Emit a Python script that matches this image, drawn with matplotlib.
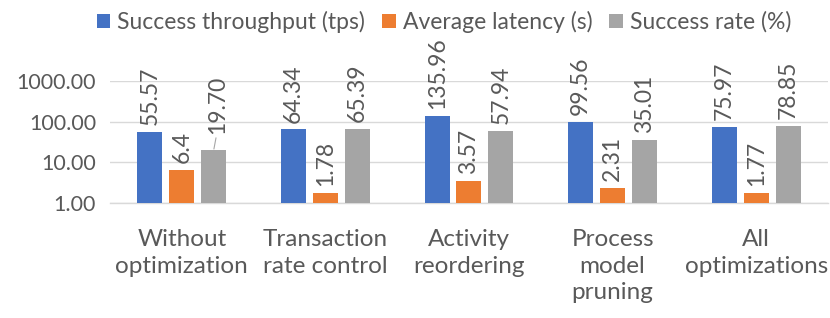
import matplotlib
matplotlib.use("Agg")
import matplotlib.pyplot as plt
import numpy as np

categories = ["Without\noptimization", "Transaction\nrate control", "Activity\nreordering",
              "Process\nmodel\npruning", "All\noptimizations"]
series_names = ["Success throughput (tps)", "Average latency (s)", "Success rate (%)"]
throughput = [55.57, 64.34, 135.96, 99.56, 75.97]
latency = [6.4, 1.78, 3.57, 2.31, 1.77]
success_rate = [19.70, 65.39, 57.94, 35.01, 78.85]
throughput_labels = ["55.57", "64.34", "135.96", "99.56", "75.97"]
latency_labels = ["6.4", "1.78", "3.57", "2.31", "1.77"]
success_labels = ["19.70", "65.39", "57.94", "35.01", "78.85"]
yticks = [1, 10, 100, 1000]
ytick_labels = ["1.00", "10.00", "100.00", "1000.00"]

colors = ["#4472C4", "#ED7D31", "#A5A5A5"]
text_color = "#595959"
grid_color = "#D9D9D9"
plt.rcParams['font.family'] = ['Lato', 'DejaVu Sans']
fs_tick = 15.5
fs_cat = 17.5
fs_data = 16.5
fs_leg = 16.5

fig = plt.figure(figsize=(8.3, 3.18), dpi=100)
ax = fig.add_axes([0.1325, 0.3616, 0.8651, 0.3837])

x = np.arange(len(categories))
width = 0.174
step = 0.222
all_vals = [throughput, latency, success_rate]
all_labels = [throughput_labels, latency_labels, success_labels]
for i, (vals, labs) in enumerate(zip(all_vals, all_labels)):
    pos = x + (i - 1) * step
    ax.bar(pos, vals, width, color=colors[i], label=series_names[i], zorder=3)
    for j, (p, v, lab) in enumerate(zip(pos, vals, labs)):
        if i == 2 and j == 0:
            ax.annotate(lab, xy=(p, v), xytext=(3, 12), textcoords="offset points",
                        rotation=90, ha="center", va="bottom", fontsize=fs_data, color=text_color,
                        arrowprops=dict(arrowstyle="-", color="#A6A6A6", lw=0.8,
                                        shrinkA=1, shrinkB=1, relpos=(0.45, 0.0)))
        else:
            ax.annotate(lab, xy=(p, v), xytext=(0, 5), textcoords="offset points",
                        rotation=90, ha="center", va="bottom", fontsize=fs_data, color=text_color)

ax.set_yscale("log")
ax.set_ylim(1, 1000)
ax.set_xlim(-0.5, len(categories) - 0.5)
ax.set_yticks(yticks)
ax.set_yticklabels(ytick_labels)
ax.yaxis.set_minor_locator(matplotlib.ticker.NullLocator())
ax.set_xticks(x)
ax.set_xticklabels(categories, linespacing=1.3)
ax.tick_params(axis="both", length=0, colors=text_color)
ax.tick_params(axis="y", labelsize=fs_tick, pad=10)
ax.tick_params(axis="x", labelsize=fs_cat, pad=19)
ax.grid(axis="y", color=grid_color, lw=1, zorder=0)
for s in ["top", "right", "left"]:
    ax.spines[s].set_visible(False)
ax.spines["bottom"].set_color(grid_color)
ax.spines["bottom"].set_linewidth(1)

handles, labels = ax.get_legend_handles_labels()
fig.legend(handles, labels, loc="center", bbox_to_anchor=(0.535, 0.931), ncol=3,
           frameon=False, fontsize=fs_leg, handlelength=0.58, handleheight=0.58,
           handletextpad=0.3, columnspacing=0.75, labelcolor=text_color,
           borderpad=0, borderaxespad=0)

fig.savefig("out.png", dpi=100)
